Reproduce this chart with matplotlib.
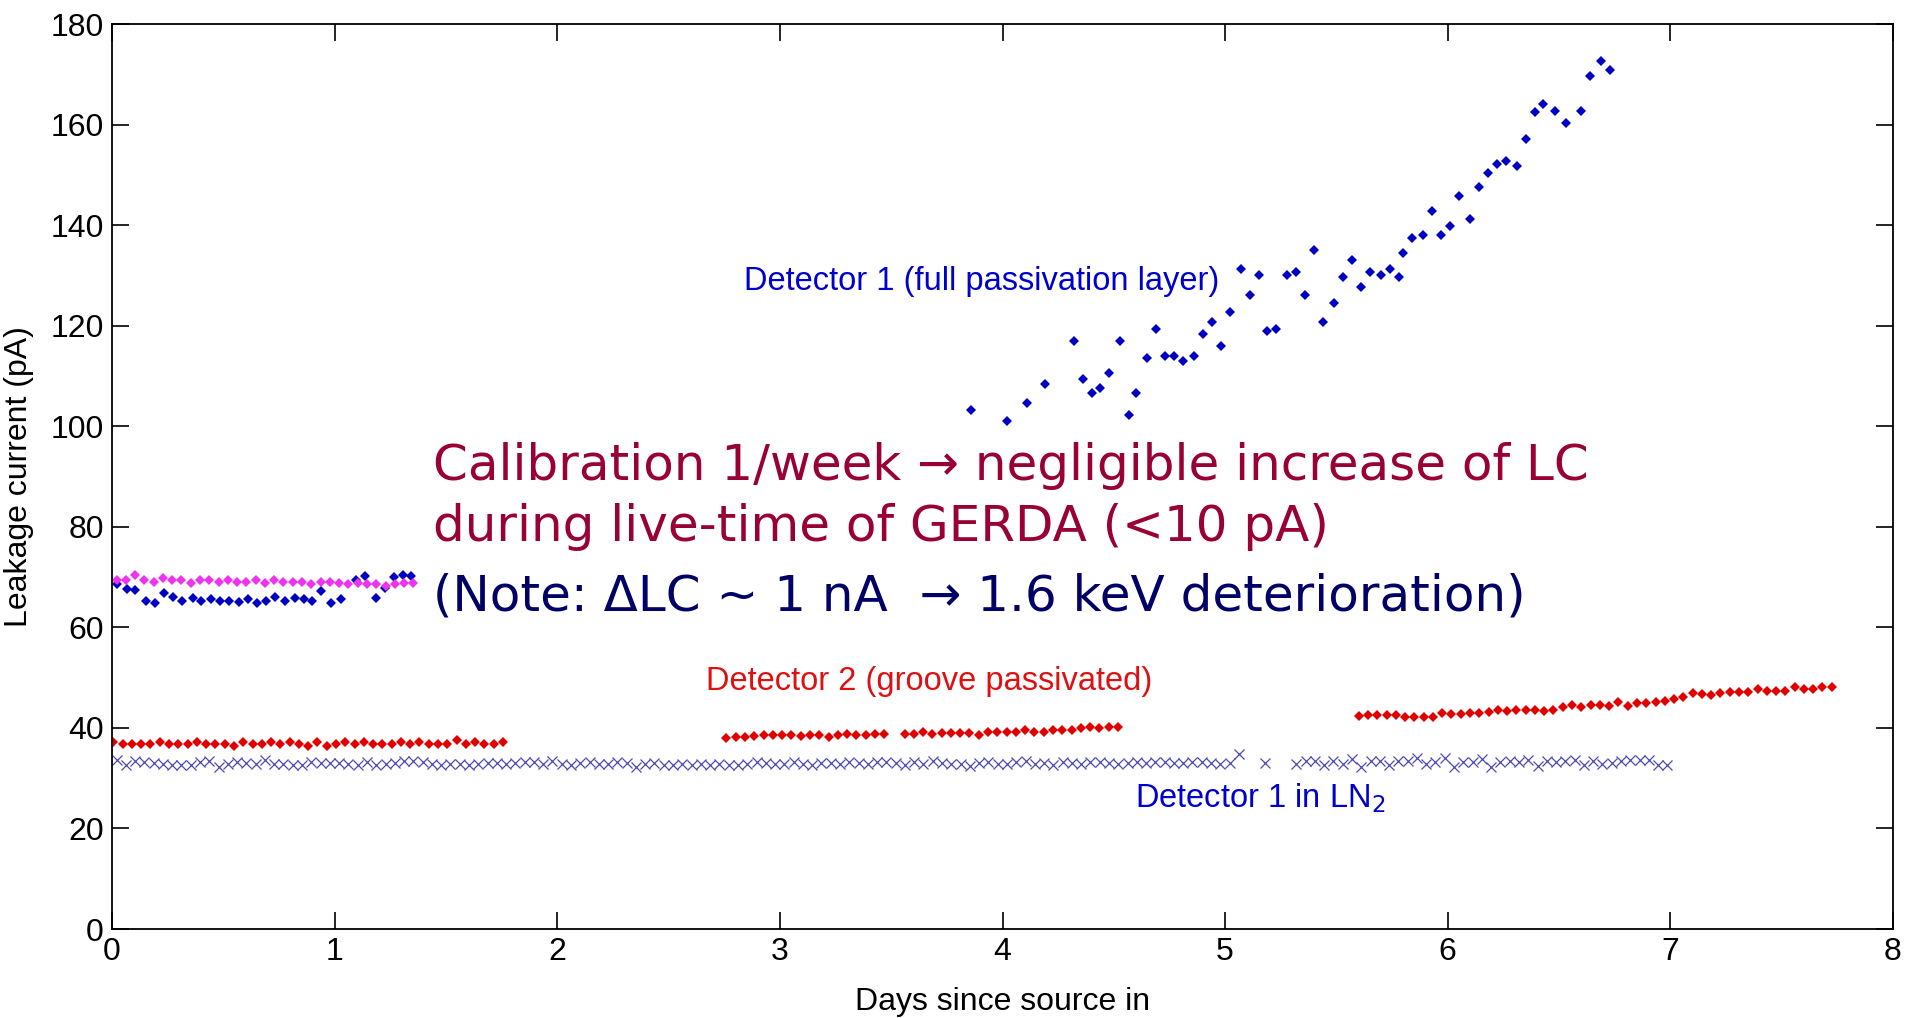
import numpy as np
import matplotlib
matplotlib.use('Agg')
import matplotlib.pyplot as plt

plt.rcParams['font.family'] = ['Liberation Sans', 'DejaVu Sans']

# detector 1 in LN2 (hourly readings)
ln2_start = [0.02, 5.18, 5.32]
ln2_vals_a = [33.6, 32.7, 33.5, 33.2, 33.1, 32.8, 32.7, 32.7, 32.7, 33.2, 33.5, 32.3, 32.8, 33.2,
              33.1, 32.8, 33.6, 32.8, 32.8, 32.7, 32.55, 33.2, 33.1, 33.1, 33.1, 32.8, 32.55, 33.2,
              32.7, 32.8, 33.1, 33.35, 33.5, 33.2, 32.8, 32.7, 32.8, 32.8, 32.55, 32.8, 32.95, 32.95,
              32.8, 33.1, 33.3, 33.2, 32.9, 33.4, 32.8, 32.7, 33.1, 33.3, 32.9, 32.8, 33.2, 33.0,
              32.3, 32.8, 33.1, 32.7, 32.7, 32.8, 32.7, 32.9, 32.7, 32.8, 32.7, 32.6, 32.9, 33.2,
              33.0, 32.9, 32.8, 33.3, 32.9, 32.7, 33.1, 33.0, 32.8, 33.3, 33.1, 32.9,
              33.2, 33.3, 33.1, 32.7, 33.2, 32.9, 33.4, 33.1, 32.8, 32.9, 32.5, 33.1, 33.3, 32.8,
              32.8, 33.2, 33.4, 32.9, 33.1, 32.7, 33.3, 33.1, 32.9, 33.2, 33.3, 33.0, 32.8, 33.1,
              33.3, 33.1, 33.2, 33.2, 33.0, 33.1, 33.3, 33.2, 33.1, 32.9, 33.0, 34.9]
ln2_vals_b = [33.0]
ln2_vals_c = [32.9, 33.5, 33.5, 32.6, 33.4, 32.8, 33.9, 32.3, 33.5, 33.4, 32.6, 33.5, 33.4, 34.1,
              32.8, 33.2, 34.1, 32.2, 33.3, 33.3, 33.9, 32.3, 33.3, 33.4, 33.3, 33.7, 32.4, 33.4,
              33.3, 33.4, 33.6, 32.7, 33.5, 32.8, 33.1, 33.4, 33.7, 33.7, 33.6, 32.7, 32.7]

# detector 2 (groove passivated), hourly readings in four runs
det2_start = [0.006, 2.76, 3.56, 5.60]
det2_vals_a = [37.2, 36.9, 36.9, 36.9, 36.9, 37.2, 36.9, 36.9, 36.9, 37.2, 36.9, 36.9, 36.9, 36.5,
               37.2, 36.9, 36.9, 37.2, 36.9, 37.2, 36.9, 36.5, 37.2, 36.5, 36.9, 37.2, 36.9, 37.2,
               36.9, 36.9, 36.9, 37.2, 36.9, 37.2, 36.9, 36.9, 36.9, 37.6, 36.9, 37.2, 36.9, 36.9,
               37.2]
det2_vals_b = [37.9, 38.1, 38.1, 38.3, 38.6, 38.6, 38.6, 38.6, 38.3, 38.6, 38.6, 38.1, 38.6, 38.8,
               38.6, 38.6, 38.8, 38.8]
det2_vals_c = [38.8, 38.8, 39.2, 38.8, 39.0, 39.0, 39.0, 39.0, 38.6, 39.2, 39.2, 39.2, 39.2, 39.5,
               39.2, 39.2, 39.5, 39.5, 39.5, 39.9, 40.1, 39.9, 40.1, 40.2]
det2_vals_d = [42.4, 42.6, 42.6, 42.6, 42.6, 42.2, 42.2, 42.2, 42.2, 42.9, 42.8, 42.8, 42.9, 42.9,
               43.2, 43.6, 43.3, 43.6, 43.6, 43.6, 43.4, 43.6, 44.1, 44.5, 44.1, 44.5, 44.5, 44.4,
               45.2, 44.4, 45.0, 45.0, 45.2, 45.3, 45.8, 46.2, 46.9, 46.7, 46.5, 46.9, 47.1, 47.1,
               47.1, 47.7, 47.4, 47.3, 47.4, 48.1, 47.7, 47.7, 48.1, 48.1]

# detector 1 (full passivation layer)
det1_days_a = [0.024, 0.066, 0.105, 0.153, 0.195, 0.234, 0.273, 0.314, 0.362, 0.401, 0.443, 0.485,
               0.524, 0.569, 0.611, 0.650, 0.692, 0.734, 0.779, 0.821, 0.860, 0.898, 0.940, 0.985,
               1.027, 1.096, 1.138, 1.186, 1.228, 1.267, 1.306, 1.345]
det1_vals_a = [68.7, 67.7, 67.4, 65.3, 64.8, 66.8, 66.0, 65.3, 65.8, 65.3, 65.6, 65.3, 65.3, 65.0,
               65.6, 64.8, 65.3, 66.0, 65.3, 65.8, 65.6, 65.3, 67.2, 64.9, 65.6, 69.5, 70.3, 65.8,
               67.9, 70.1, 70.5, 70.2]
det1_days_b = [3.86, 4.02, 4.11, 4.19, 4.32, 4.36, 4.40, 4.44, 4.48, 4.53, 4.57, 4.60, 4.65, 4.69,
               4.73, 4.77, 4.81, 4.86, 4.90, 4.94, 4.98, 5.02, 5.07, 5.11, 5.15, 5.19, 5.23, 5.28,
               5.32, 5.36, 5.40, 5.44, 5.49, 5.53, 5.57, 5.61, 5.65, 5.70, 5.74, 5.78, 5.80, 5.84,
               5.89, 5.93, 5.97, 6.01, 6.05, 6.10, 6.14, 6.18, 6.22, 6.26, 6.31, 6.35, 6.39, 6.43,
               6.48, 6.53, 6.60, 6.64, 6.69, 6.73]
det1_vals_b = [103.2, 101.0, 104.6, 108.5, 116.9, 109.4, 106.7, 107.7, 110.6, 116.9, 102.3, 106.7,
               113.6, 119.3, 113.9, 113.9, 113.0, 113.9, 118.4, 120.7, 116.0, 122.8, 131.3, 126.2,
               130.1, 119.0, 119.3, 130.0, 130.6, 126.2, 135.1, 120.8, 124.6, 129.7, 133.0, 127.6,
               130.6, 130.0, 131.2, 129.7, 134.4, 137.5, 138.1, 142.9, 138.1, 139.9, 145.8, 141.3,
               147.6, 150.3, 152.1, 152.7, 151.8, 157.1, 162.5, 164.0, 162.8, 160.4, 162.8, 169.6,
               172.6, 170.8]

# magenta reference run
ref_start = 0.02
ref_vals = [69.4, 69.5, 70.5, 69.4, 69.1, 69.8, 69.5, 69.5, 68.9, 69.5, 69.5, 69.1, 69.5, 69.1,
            69.1, 69.5, 68.9, 69.5, 69.1, 69.1, 69.1, 68.6, 69.1, 69.1, 68.9, 68.6, 68.9, 68.6,
            68.6, 68.3, 68.6, 68.9, 68.9]

x_ticks = [0, 1, 2, 3, 4, 5, 6, 7, 8]
y_ticks = [0, 20, 40, 60, 80, 100, 120, 140, 160, 180]


def hourly(start, vals):
    return start + np.arange(len(vals)) / 24.0


fig = plt.figure(figsize=(19.09, 10.18), dpi=100)
ax = fig.add_axes([0.0587, 0.0874, 0.9329, 0.889])

xcol = '#4a4ab4'
for s, v in zip(ln2_start, [ln2_vals_a, ln2_vals_b, ln2_vals_c]):
    ax.plot(hourly(s, v), v, 'x', color=xcol, ms=6.5, mew=0.9, ls='none')

for s, v in zip(det2_start, [det2_vals_a, det2_vals_b, det2_vals_c, det2_vals_d]):
    ax.plot(hourly(s, v), v, 'D', color='#e00000', ms=5, mew=0, ls='none')

ax.plot(det1_days_a, det1_vals_a, 'D', color='#0000c0', ms=5, mew=0, ls='none')
ax.plot(det1_days_b, det1_vals_b, 'D', color='#0000c0', ms=5, mew=0, ls='none')
ax.plot(hourly(ref_start, ref_vals), ref_vals, 'D', color='#ee33ee', ms=5, mew=0, ls='none')

ax.set_xlim(0, 8)
ax.set_ylim(0, 180)
ax.set_xticks(x_ticks)
ax.set_yticks(y_ticks)
ax.tick_params(direction='in', length=12, width=1.2, labelsize=23, top=True, right=True, pad=6)
for sp in ax.spines.values():
    sp.set_linewidth(1.3)

ax.set_xlabel('Days since source in', fontsize=23)
ax.set_ylabel('Leakage current (pA)', fontsize=23)
ax.xaxis.set_label_coords(0.5, -0.064)
ax.yaxis.set_label_coords(-0.044, 0.5)

ax.text(2.84, 128.8, 'Detector 1 (full passivation layer)', color='#0000cc', fontsize=23.5, va='center')
ax.text(2.667, 49.2, 'Detector 2 (groove passivated)', color='#dd1111', fontsize=23.5, va='center')
ax.text(4.596, 26.1, 'Detector 1 in LN$_2$', color='#0000cc', fontsize=23.5, va='center')

box = dict(facecolor='white', edgecolor='none', pad=6)
ax.text(1.44, 92.0, 'Calibration 1/week \u2192 negligible increase of LC', color='#990033',
        fontsize=36, va='center', family='DejaVu Sans', bbox=box, zorder=5)
ax.text(1.44, 79.9, 'during live-time of GERDA (<10 pA)', color='#990033',
        fontsize=36, va='center', family='DejaVu Sans', bbox=box, zorder=5)
ax.text(1.44, 66.1, '(Note: \u0394LC ~ 1 nA  \u2192 1.6 keV deterioration)', color='#000066',
        fontsize=36, va='center', family='DejaVu Sans', bbox=box, zorder=5)

fig.savefig('out.png', dpi=100)
